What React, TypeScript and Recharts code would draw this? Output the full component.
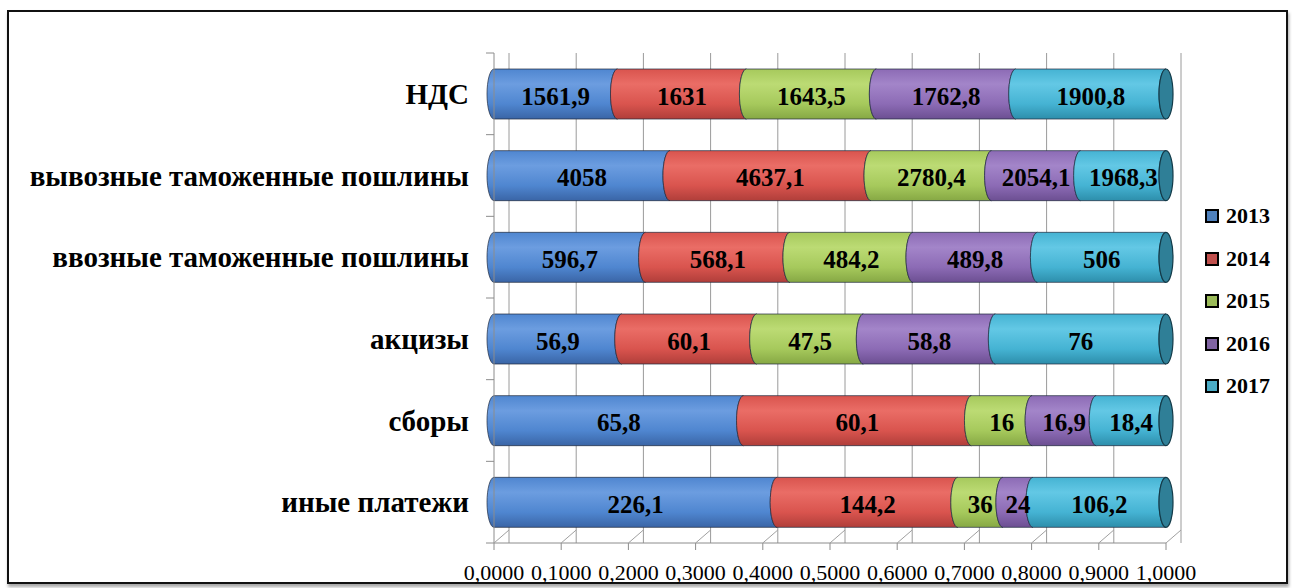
import { BarChart, Bar, XAxis, YAxis, CartesianGrid, LabelList } from "recharts";

const CATEGORIES = [
  "НДС",
  "вывозные таможенные пошлины",
  "ввозные таможенные пошлины",
  "акцизы",
  "сборы",
  "иные платежи",
];
const YEARS = ["2013", "2014", "2015", "2016", "2017"];
const V2013 = [1561.9, 4058, 596.7, 56.9, 65.8, 226.1];
const V2014 = [1631, 4637.1, 568.1, 60.1, 60.1, 144.2];
const V2015 = [1643.5, 2780.4, 484.2, 47.5, 16, 36];
const V2016 = [1762.8, 2054.1, 489.8, 58.8, 16.9, 24];
const V2017 = [1900.8, 1968.3, 506, 76, 18.4, 106.2];
const X_TICKS = [0, 0.1, 0.2, 0.3, 0.4, 0.5, 0.6, 0.7, 0.8, 0.9, 1];

const SERIES = [V2013, V2014, V2015, V2016, V2017];

// light / base / dark for the cylinder shading
const SHADES = [
  ["#6c9de0", "#4f86d0", "#3a65a6"],
  ["#ea6d66", "#d9544e", "#b03e3a"],
  ["#bcdb74", "#a6c95c", "#86a844"],
  ["#a385c9", "#8c6bb5", "#6c4f92"],
  ["#63c8e5", "#45b3d3", "#2d8eab"],
];
const LEGEND_COLORS = ["#4f81bd", "#c0504d", "#9bbb59", "#8064a2", "#4bacc6"];

const FONT = "Liberation Serif, DejaVu Serif, Noto Serif, serif";
const PLOT_H = 490;

if (typeof document !== "undefined") document.body.style.margin = "0";

const data = CATEGORIES.map((name, i) => {
  const row: Record<string, string | number> = { name };
  YEARS.forEach((yr, s) => (row["y" + yr] = SERIES[s][i]));
  return row;
});

function fmt(v: number) {
  return String(v).replace(".", ",");
}

function CylinderSegment(props: any) {
  const { x, y, width, height, gradId, last } = props;
  if (!width || width <= 0) return null;
  const rx = 7;
  const ry = height / 2;
  const x1 = x + width;
  const d = `M${x},${y} L${x1},${y} A${rx},${ry} 0 0 0 ${x1},${y + height} L${x},${y + height} A${rx},${ry} 0 0 1 ${x},${y} Z`;
  return (
    <g>
      <path d={d} fill={`url(#${gradId})`} stroke="#1f2a3d" strokeOpacity={0.7} strokeWidth={1} />
      {last && (
        <ellipse cx={x1} cy={y + ry} rx={rx} ry={ry} fill="#2f7f97" stroke="#123a48" strokeWidth={1.2} />
      )}
    </g>
  );
}

function CategoryTick(props: any) {
  const { x, y, payload, index } = props;
  const half = PLOT_H / CATEGORIES.length / 2;
  return (
    <g>
      <line x1={x - 8} x2={x} y1={y - half} y2={y - half} stroke="#8c8c8c" />
      {index === CATEGORIES.length - 1 && (
        <line x1={x - 8} x2={x} y1={y + half} y2={y + half} stroke="#8c8c8c" />
      )}
      <text
        x={x - 25}
        y={y}
        textAnchor="end"
        dominantBaseline="central"
        fontFamily={FONT}
        fontWeight="bold"
        fontSize={29}
        fill="#000"
      >
        {payload.value}
      </text>
    </g>
  );
}

function ValueTick(props: any) {
  const { x, y, payload } = props;
  return (
    <g>
      <line x1={x} x2={x} y1={y} y2={y + 7} stroke="#8c8c8c" />
      <line x1={x} x2={x + 15} y1={y} y2={y - 13} stroke="#a0a0a0" />
      <text x={x} y={y + 37} textAnchor="middle" fontFamily={FONT} fontSize={22} fill="#000">
        {payload.value.toFixed(4).replace(".", ",")}
      </text>
    </g>
  );
}

export default function App() {
  return (
    <div style={{ position: "relative", width: 1292, height: 588, overflow: "hidden" }}>
      <div
        style={{
          position: "absolute",
          left: 7,
          top: 10,
          width: 1277,
          height: 570,
          border: "2px solid #111",
          boxShadow: "1px 3px 3px rgba(0,0,0,0.35)",
          background: "#fff",
        }}
      >
        <BarChart
          width={1277}
          height={572}
          data={data}
          layout="vertical"
          stackOffset="expand"
          margin={{ top: 41, right: 120, bottom: 2, left: 0 }}
          barSize={50}
          style={{ overflow: "visible" }}
        >
          <defs>
            {SHADES.map((s, i) => (
              <linearGradient key={i} id={"cyl" + i} x1="0" y1="0" x2="0" y2="1">
                <stop offset="0%" stopColor={s[1]} />
                <stop offset="30%" stopColor={s[0]} />
                <stop offset="70%" stopColor={s[1]} />
                <stop offset="100%" stopColor={s[2]} />
              </linearGradient>
            ))}
          </defs>
          <CartesianGrid
            horizontal={false}
            stroke="#9a9a9a"
            verticalCoordinatesGenerator={({ offset }: any) =>
              X_TICKS.map((t) => offset.left + offset.width * t + 15)
            }
          />
          <XAxis
            type="number"
            domain={[0, 1]}
            ticks={X_TICKS}
            height={39}
            tickSize={0}
            tickMargin={0}
            axisLine={{ stroke: "#8c8c8c" }}
            tick={<ValueTick />}
            interval={0}
          />
          <YAxis
            type="category"
            dataKey="name"
            width={485}
            tickSize={0}
            tickMargin={0}
            axisLine={{ stroke: "#8c8c8c" }}
            tick={<CategoryTick />}
            interval={0}
          />
          {YEARS.map((yr, s) => (
            <Bar
              key={yr}
              dataKey={"y" + yr}
              stackId="a"
              isAnimationActive={false}
              shape={(p: any) => (
                <CylinderSegment {...p} gradId={"cyl" + s} last={s === YEARS.length - 1} />
              )}
            >
              <LabelList
                content={(p: any) => (
                  <text
                    x={p.x + p.width / 2}
                    y={p.y + p.height / 2 + 2}
                    textAnchor="middle"
                    dominantBaseline="central"
                    fontFamily={FONT}
                    fontWeight="bold"
                    fontSize={25}
                    fill="#000"
                  >
                    {fmt(SERIES[s][p.index])}
                  </text>
                )}
              />
            </Bar>
          ))}
        </BarChart>
        <div style={{ position: "absolute", left: 1196, top: 183, fontFamily: FONT }}>
          {YEARS.map((yr, i) => (
            <div key={yr} style={{ display: "flex", alignItems: "center", height: 42.5 }}>
              <span
                style={{
                  display: "inline-block",
                  width: 10,
                  height: 10,
                  background: LEGEND_COLORS[i],
                  border: "2px solid #000",
                  marginRight: 7,
                }}
              />
              <span style={{ fontWeight: "bold", fontSize: 22, color: "#000" }}>{yr}</span>
            </div>
          ))}
        </div>
      </div>
    </div>
  );
}
